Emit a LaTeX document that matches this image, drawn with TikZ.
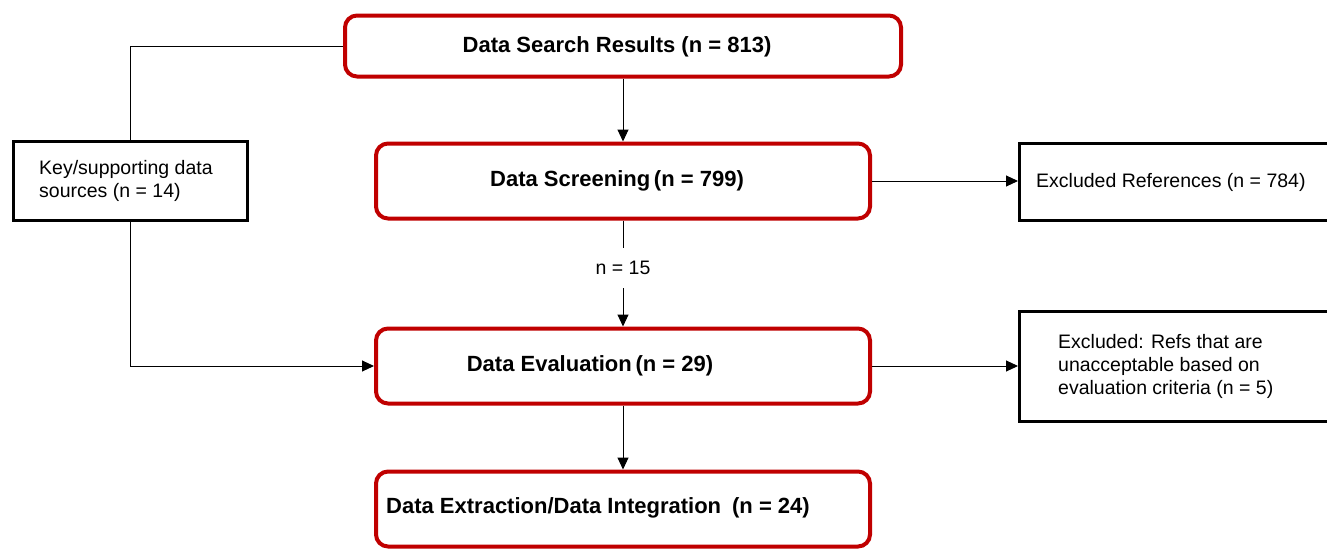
\documentclass[tikz,border=0pt]{standalone}
\usepackage{fontspec}
\setmainfont{Liberation Sans}
\usetikzlibrary{arrows.meta}
\definecolor{boxred}{RGB}{192,0,0}

\begin{document}
\begin{tikzpicture}[x=1pt, y=-1pt, font=\fontsize{19.5}{23}\selectfont,
    redbox/.style={draw=boxred, line width=4pt, rounded corners=12pt,
      minimum width=494pt, minimum height=75pt, inner sep=0pt},
    blackbox/.style={draw, line width=3pt, inner sep=0pt},
    boldtext/.style={font=\fontsize{22}{26}\selectfont\bfseries, inner sep=0pt},
    flow/.style={line width=1pt, -{Triangle[length=12pt, width=11pt]}}]
        % page
        \useasboundingbox[fill=white] (0,0) rectangle (1327,549);
        % main steps
        \node[redbox, minimum width=556pt, minimum height=61pt] (search) at (623,46) {};
        \node[boldtext] (search text) at (617,47) {Data Search Results (n = 813)};
        \node[redbox] (screen) at (623,181) {};
        \node[boldtext] (screen text) at (617,181) {Data Screening\,(n = 799)};
        \node[redbox] (eval) at (623,366) {};
        \node[boldtext] (eval text) at (590,366) {Data Evaluation\,(n = 29)};
        \node[redbox] (extract) at (623,509) {};
        \node[boldtext] (extract text) at (598,508) {Data Extraction/Data Integration\enspace(n = 24)};
        % side boxes
        \node[blackbox, minimum width=234pt, minimum height=79pt] (key) at (130,181) {};
        \node[anchor=west, align=left, inner sep=0pt] (key text) at (39,181)
          {Key/supporting data\\sources (n = 14)};
        \node[blackbox, minimum width=326pt, minimum height=77pt] (excl refs) at (1182.5,182) {};
        \node[anchor=west, inner sep=0pt] (excl refs text) at (1036,182) {Excluded References (n = 784)};
        \node[blackbox, minimum width=326pt, minimum height=110pt] (excl eval) at (1182.5,366.5) {};
        \node[anchor=west, align=left, inner sep=0pt] (excl eval text) at (1058,366.5)
          {Excluded: Refs that are\\unacceptable based on\\evaluation criteria (n = 5)};
        % count label
        \node[inner sep=0pt, minimum height=40pt] (count) at (623,268) {n = 15};
        % connectors
        \draw[line width=1pt] (search.west) -| (key.north);
        \draw[flow] (key.south) |- (eval.west);
        \draw[flow] (search.south) -- (screen.north);
        \draw[line width=1pt] (screen.south) -- (count.north);
        \draw[flow] (count.south) -- (eval.north);
        \draw[flow] (eval.south) -- (extract.north);
        \draw[flow] (screen.east) -- (screen.east -| excl refs.west);
        \draw[flow] (eval.east) -- (eval.east -| excl eval.west);
\end{tikzpicture}
\end{document}
